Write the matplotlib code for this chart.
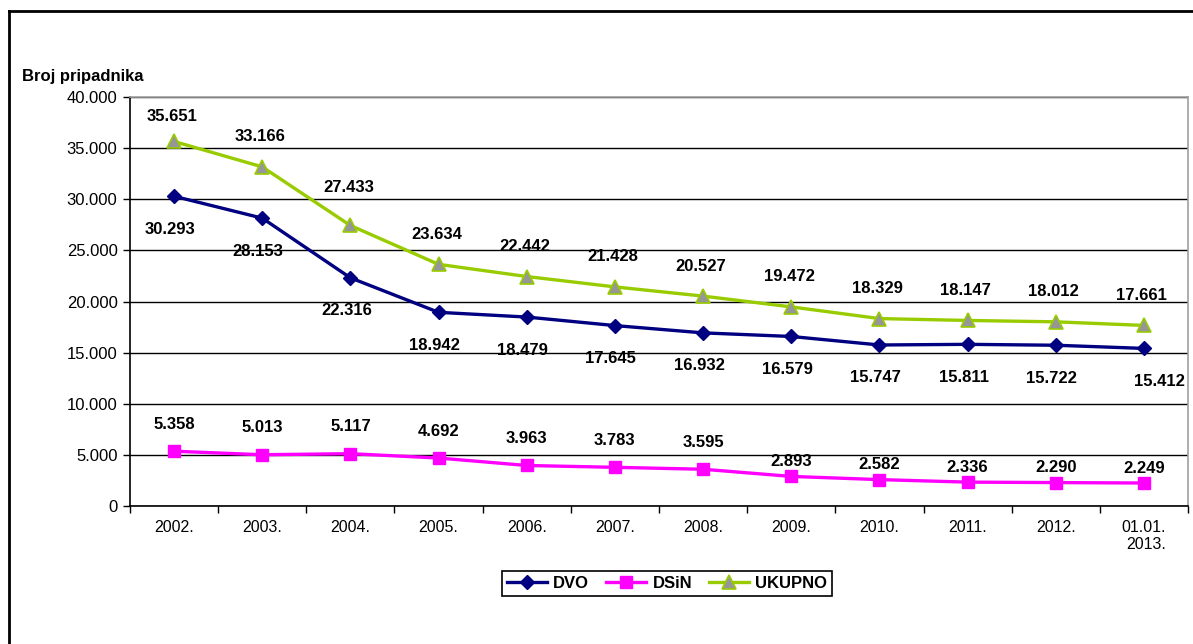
import matplotlib
matplotlib.use("Agg")
import matplotlib.pyplot as plt
from matplotlib.lines import Line2D
from matplotlib.ticker import FuncFormatter, FixedLocator

plt.rcParams['font.family'] = ['Liberation Sans', 'DejaVu Sans']

categories = ["2002.", "2003.", "2004.", "2005.", "2006.", "2007.", "2008.",
              "2009.", "2010.", "2011.", "2012.", "01.01.\n2013."]
dvo = [30293, 28153, 22316, 18942, 18479, 17645, 16932, 16579, 15747, 15811, 15722, 15412]
dsin = [5358, 5013, 5117, 4692, 3963, 3783, 3595, 2893, 2582, 2336, 2290, 2249]
ukupno = [35651, 33166, 27433, 23634, 22442, 21428, 20527, 19472, 18329, 18147, 18012, 17661]
yticks = [0, 5000, 10000, 15000, 20000, 25000, 30000, 35000, 40000]


def fmt(v):
    return f"{int(v):,}".replace(",", ".")


W, H = 1193, 644
fig = plt.figure(figsize=(W / 100, H / 100), dpi=100)
ax = fig.add_axes([130 / W, 1 - 506 / H, (1188 - 130) / W, (506 - 97) / H])

x = list(range(len(categories)))
ax.plot(x, dvo, color="#000080", lw=2.4, marker="D", ms=7, mfc="#000080", mec="#000080", label="DVO", zorder=3)
ax.plot(x, dsin, color="#FF00FF", lw=2.4, marker="s", ms=8.5, mfc="#FF00FF", mec="#FF00FF", label="DSiN", zorder=3)
ax.plot(x, ukupno, color="#99CC00", lw=2.4, marker="^", ms=10, mfc="#969696", mec="#99CC00", mew=1.2, label="UKUPNO", zorder=4)

lab_kw = dict(textcoords="offset pixels", ha="center", va="center", fontsize=12, fontweight="bold")
for i, v in enumerate(ukupno):
    dy = 30
    if i == 2:
        dy = 38
    if i == 0:
        dy = 25
    ax.annotate(fmt(v), (i, v), xytext=(-2, dy), **lab_kw)
for i, v in enumerate(dvo):
    dx = 16 if i == len(dvo) - 1 else -4
    ax.annotate(fmt(v), (i, v), xytext=(dx, -33), **lab_kw)
for i, v in enumerate(dsin):
    dy = 27 if i < 7 else 15
    ax.annotate(fmt(v), (i, v), xytext=(0, dy), **lab_kw)

ax.set_xlim(-0.5, len(categories) - 0.5)
ax.set_ylim(0, 40000)
ax.set_yticks(yticks)
ax.yaxis.set_major_formatter(FuncFormatter(lambda v, p: fmt(v)))
ax.set_xticks(x)
ax.set_xticklabels(categories, fontsize=11.5)
ax.xaxis.set_minor_locator(FixedLocator([i - 0.5 for i in range(len(categories) + 1)]))
ax.tick_params(axis="x", which="major", length=0, pad=10)
ax.tick_params(axis="x", which="minor", length=5, direction="out", color="black", width=1)
ax.tick_params(axis="y", length=5, direction="out", labelsize=12, pad=4, width=1)
for lbl in ax.get_xticklabels():
    lbl.set_multialignment("right")

ax.grid(axis="y", color="black", lw=1)
ax.set_axisbelow(True)
ax.spines["left"].set_color("black")
ax.spines["bottom"].set_color("black")
ax.spines["top"].set_color("#a0a0a0")
ax.spines["right"].set_color("#a0a0a0")
for s in ax.spines.values():
    s.set_linewidth(1.2)

fig.text(22 / W, 1 - 77 / H, "Broj pripadnika", fontsize=12, fontweight="bold", ha="left", va="center")

leg = ax.legend(loc="center", bbox_to_anchor=(667 / W, 1 - 583 / H), bbox_transform=fig.transFigure,
                ncol=3, frameon=True, fancybox=False, edgecolor="black", framealpha=1,
                prop={"weight": "bold", "size": 12}, handlelength=2.4, handletextpad=0.4,
                columnspacing=1.0, borderpad=0.3, borderaxespad=0)
leg.get_frame().set_linewidth(1.2)

fig.add_artist(Line2D([9 / W, 9 / W], [0, 1 - 11 / H], color="black", lw=2, transform=fig.transFigure))
fig.add_artist(Line2D([9 / W, 1], [1 - 11 / H, 1 - 11 / H], color="black", lw=2, transform=fig.transFigure))

fig.savefig("out.png", dpi=100)
